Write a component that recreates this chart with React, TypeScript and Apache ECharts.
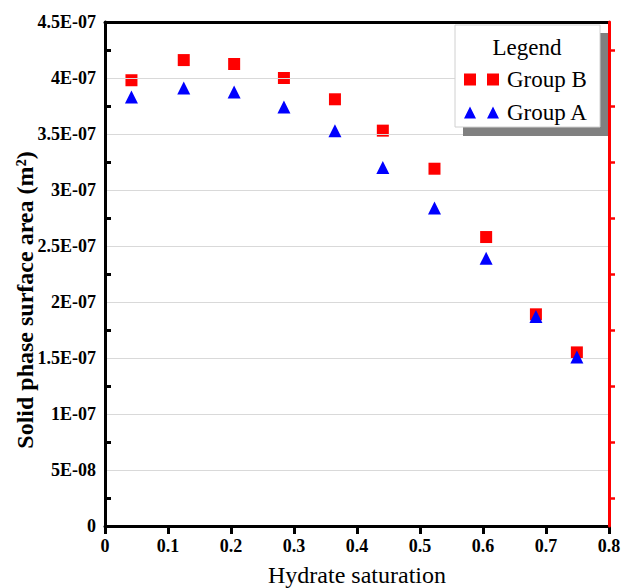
import React, { useEffect, useRef } from "react";
import * as echarts from "echarts";

const saturation = [0.042, 0.125, 0.205, 0.284, 0.365, 0.441, 0.523, 0.605, 0.684, 0.749];
const groupB = [3.98e-7, 4.16e-7, 4.125e-7, 4.0e-7, 3.81e-7, 3.53e-7, 3.19e-7, 2.58e-7, 1.89e-7, 1.55e-7];
const groupA = [3.83e-7, 3.91e-7, 3.875e-7, 3.74e-7, 3.53e-7, 3.2e-7, 2.84e-7, 2.39e-7, 1.87e-7, 1.51e-7];
const seriesNames = ["Group B", "Group A"];
const xTitle = "Hydrate saturation";
const yTitle = "Solid phase surface area (m²)";
const legendTitle = "Legend";

const SERIF = "'Liberation Serif', 'Times New Roman', serif";

function sci(v: number): string {
  if (v === 0) return "0";
  const e = Math.floor(Math.log10(v) + 1e-9);
  const m = Math.round((v / Math.pow(10, e)) * 100) / 100;
  const ex = Math.abs(e);
  return `${m}E${e < 0 ? "-" : "+"}${ex < 10 ? "0" + ex : ex}`;
}

export default function App() {
  const ref = useRef<HTMLDivElement>(null);
  useEffect(() => {
    if (!ref.current) return;
    const chart = echarts.init(ref.current, undefined, { renderer: "svg" });
    const pairs = (ys: number[]) => saturation.map((x, i) => [x, ys[i]]);
    const blackLine = { color: "#000000", width: 3, opacity: 1, type: "solid" };
    const tickLine = { color: "#000000", width: 3, opacity: 1, type: "solid" };
    chart.setOption({
      animation: false,
      backgroundColor: "#ffffff",
      grid: {
        left: 105,
        right: 13,
        top: 22,
        bottom: 62,
        containLabel: false,
        outerBoundsMode: "none",
        show: false,
      },
      xAxis: [
        {
          type: "value",
          min: 0,
          max: 0.8,
          interval: 0.1,
          position: "bottom",
          name: xTitle,
          nameLocation: "middle",
          nameGap: 37,
          nameTextStyle: { fontFamily: SERIF, fontSize: 24, color: "#000" },
          axisLine: { show: true, onZero: false, lineStyle: blackLine },
          axisTick: { show: true, inside: false, length: 8, lineStyle: tickLine },
          axisLabel: { fontFamily: SERIF, fontWeight: "bold", fontSize: 18, color: "#000", margin: 11 },
          splitLine: { show: false },
          z: 5,
        },
        {
          type: "value",
          min: 0,
          max: 0.8,
          interval: 0.1,
          position: "top",
          axisLine: { show: true, onZero: false, lineStyle: blackLine },
          axisTick: { show: false },
          axisLabel: { show: false },
          splitLine: { show: false },
          z: 5,
        },
      ],
      yAxis: [
        {
          type: "value",
          min: 0,
          max: 4.5e-7,
          interval: 5e-8,
          position: "left",
          axisLine: { show: true, onZero: false, lineStyle: blackLine },
          axisTick: { show: false, inside: true },
          minorTick: { show: true, splitNumber: 2, length: 6, lineStyle: tickLine },
          axisLabel: {
            fontFamily: SERIF,
            fontWeight: "bold",
            fontSize: 18,
            color: "#000",
            margin: 9,
            formatter: (v: number) => sci(v),
          },
          splitLine: { show: true, showMinLine: false, showMaxLine: false, lineStyle: { color: "#d9d9d9", width: 1.2 } },
          z: 4,
        },
        {
          type: "value",
          min: 0,
          max: 4.5e-7,
          interval: 5e-8,
          position: "right",
          axisLine: { show: true, onZero: false, lineStyle: { color: "#ff0000", width: 3 } },
          axisTick: { show: false },
          minorTick: { show: true, splitNumber: 2, length: 6, lineStyle: { color: "#ff0000", width: 2.5 } },
          axisLabel: { show: false },
          splitLine: { show: false },
          z: 6,
        },
      ],
      legend: {
        orient: "vertical",
        left: 464,
        top: 68,
        padding: 0,
        itemGap: 10,
        itemWidth: 35,
        itemHeight: 12,
        z: 20,
        data: [
          { name: seriesNames[0], icon: "path://M0,0h12v12h-12z M23,0h12v12h-12z" },
          { name: seriesNames[1], icon: "path://M6,0L12,12L0,12Z M29,0L35,12L23,12Z" },
        ],
        textStyle: { fontFamily: SERIF, fontSize: 23, color: "#000", lineHeight: 20, padding: [0, 0, 0, 3] },
      },
      graphic: [
        { type: "rect", z: 10, shape: { x: 463, y: 33, width: 145, height: 103 }, style: { fill: "#808080" } },
        {
          type: "rect",
          z: 11,
          shape: { x: 455, y: 25, width: 145, height: 102 },
          style: { fill: "#ffffff", stroke: "#d0d0d0", lineWidth: 1 },
        },
        {
          type: "text",
          z: 12,
          x: 527,
          y: 47,
          style: { text: legendTitle, fontFamily: SERIF, fontSize: 23, fill: "#000", textAlign: "center", textVerticalAlign: "middle" },
        },
        {
          type: "text",
          z: 12,
          x: 25,
          y: 300,
          rotation: Math.PI / 2,
          style: {
            text: yTitle,
            fontFamily: SERIF,
            fontWeight: "bold",
            fontSize: 24,
            fill: "#000",
            textAlign: "center",
            textVerticalAlign: "middle",
          },
        },
      ],
      series: [
        {
          name: seriesNames[0],
          type: "scatter",
          symbol: "rect",
          symbolSize: 12,
          itemStyle: { color: "#ff0000", opacity: 1 },
          data: pairs(groupB),
          z: 3,
        },
        {
          name: seriesNames[1],
          type: "scatter",
          symbol: "triangle",
          symbolSize: 13,
          itemStyle: { color: "#0000ff", opacity: 1 },
          data: pairs(groupA),
          z: 4,
        },
      ],
    });
    return () => chart.dispose();
  }, []);
  return <div ref={ref} style={{ width: 622, height: 588, position: "absolute", left: 0, top: 0 }} />;
}
